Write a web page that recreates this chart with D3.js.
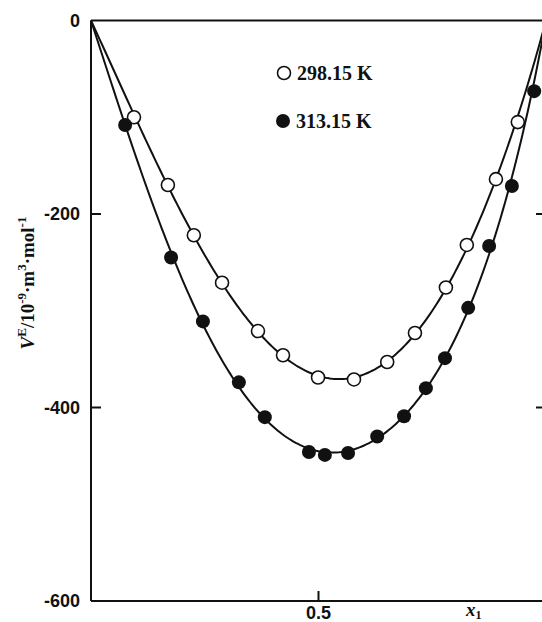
<!DOCTYPE html>
<html>
<head>
<meta charset="utf-8">
<script src="https://cdn.jsdelivr.net/npm/d3@7"></script>
<style>
  html, body { margin: 0; padding: 0; background: #fff; overflow: hidden; }
  svg { display: block; }
  .tick-label { font-family: "Liberation Sans", Arial, sans-serif; font-weight: bold; font-size: 18px; fill: #111; }
  .serif { font-family: "Liberation Serif", "Times New Roman", serif; font-weight: bold; fill: #111; }
</style>
</head>
<body>
<svg id="chart" width="542" height="622"></svg>
<script>
// Excess molar volume V^E vs mole fraction x1 at two temperatures
const x298 = [0.0945, 0.169, 0.226, 0.288, 0.367, 0.422, 0.499, 0.578, 0.651, 0.712, 0.780, 0.826, 0.890, 0.938];
const v298 = [-100, -170, -222, -271, -321, -346, -369, -371, -353, -323, -276, -232, -164, -105];

const x313 = [0.075, 0.176, 0.246, 0.325, 0.382, 0.479, 0.514, 0.565, 0.629, 0.688, 0.736, 0.778, 0.829, 0.875, 0.925, 0.974];
const v313 = [-108, -245, -311, -374, -410, -446, -449, -447, -430, -409, -380, -349, -297, -233, -171, -73];

const seriesLabels = ["298.15 K", "313.15 K"];
const yTicks = [0, -200, -400, -600];
const xTicks = [0.5];

const svg = d3.select("#chart");
const x = d3.scaleLinear().domain([0, 1]).range([91, 546]);
const y = d3.scaleLinear().domain([-600, 0]).range([601, 20.5]);

// Redlich–Kister least-squares fit: V = x(1-x) * sum A_k (2x-1)^k
function rkFit(xs, vs, order) {
  const n = order + 1;
  const basis = (xx, k) => xx * (1 - xx) * Math.pow(2 * xx - 1, k);
  const M = Array.from({length: n}, () => new Array(n + 1).fill(0));
  xs.forEach((xx, i) => {
    for (let a = 0; a < n; a++) {
      for (let b = 0; b < n; b++) M[a][b] += basis(xx, a) * basis(xx, b);
      M[a][n] += basis(xx, a) * vs[i];
    }
  });
  for (let c = 0; c < n; c++) {
    let p = c;
    for (let r = c + 1; r < n; r++) if (Math.abs(M[r][c]) > Math.abs(M[p][c])) p = r;
    [M[c], M[p]] = [M[p], M[c]];
    for (let r = 0; r < n; r++) {
      if (r === c) continue;
      const f = M[r][c] / M[c][c];
      for (let k = c; k <= n; k++) M[r][k] -= f * M[c][k];
    }
  }
  const A = M.map((row, i) => row[n] / row[i]);
  return xx => A.reduce((s, a, k) => s + a * basis(xx, k), 0);
}

const fit298 = rkFit(x298, v298, 3);
const fit313 = rkFit(x313, v313, 3);
const grid = d3.range(0, 1.0001, 0.005);

const line = d3.line().x(d => x(d[0])).y(d => y(d[1])).curve(d3.curveLinear);

[fit298, fit313].forEach(f => {
  svg.append("path")
    .attr("d", line(grid.map(g => [g, f(g)])))
    .attr("fill", "none").attr("stroke", "#111").attr("stroke-width", 2);
});

// Frame
const frame = svg.append("g").attr("stroke", "#111").attr("stroke-width", 2).attr("fill", "none");
frame.append("line").attr("x1", x(0)).attr("x2", x(0)).attr("y1", y(0)).attr("y2", y(-600));
frame.append("line").attr("x1", x(0)).attr("x2", x(1)).attr("y1", y(0)).attr("y2", y(0));
frame.append("line").attr("x1", x(0)).attr("x2", x(1)).attr("y1", y(-600)).attr("y2", y(-600));
frame.append("line").attr("x1", x(1)).attr("x2", x(1)).attr("y1", y(0)).attr("y2", y(-600));

// Inward ticks
yTicks.filter(t => t !== 0 && t !== -600).forEach(t => {
  frame.append("line").attr("x1", x(0)).attr("x2", x(0) + 10).attr("y1", y(t)).attr("y2", y(t));
  frame.append("line").attr("x1", x(1)).attr("x2", x(1) - 10).attr("y1", y(t)).attr("y2", y(t));
});
xTicks.forEach(t => {
  frame.append("line").attr("x1", x(t)).attr("x2", x(t)).attr("y1", y(-600)).attr("y2", y(-600) - 10);
});

// Tick labels
svg.selectAll(".ylab").data(yTicks).join("text")
  .attr("class", "tick-label")
  .attr("x", 80).attr("y", d => y(d)).attr("dy", "0.35em")
  .attr("text-anchor", "end").text(d => d);
svg.selectAll(".xlab").data(xTicks).join("text")
  .attr("class", "tick-label")
  .attr("x", d => x(d)).attr("y", 619)
  .attr("text-anchor", "middle").text(d => d);

// Axis titles
const xt = svg.append("text").attr("class", "serif").attr("x", 466).attr("y", 616).attr("font-size", 19);
xt.append("tspan").attr("font-style", "italic").text("x");
xt.append("tspan").attr("font-size", 12).attr("dy", 3).text("1");

const yt = svg.append("text").attr("class", "serif")
  .attr("transform", "translate(34,283) rotate(-90)")
  .attr("text-anchor", "middle").attr("font-size", 19);
yt.append("tspan").attr("font-style", "italic").text("V");
yt.append("tspan").attr("font-size", 13).attr("dy", -8).text("E");
yt.append("tspan").attr("dy", 8).text("/10");
yt.append("tspan").attr("font-size", 13).attr("dy", -8).text("-9");
yt.append("tspan").attr("dy", 8).text("·m");
yt.append("tspan").attr("font-size", 13).attr("dy", -8).text("3");
yt.append("tspan").attr("dy", 8).text("·mol");
yt.append("tspan").attr("font-size", 13).attr("dy", -8).text("-1");

// Data markers
svg.append("g").selectAll("circle").data(x298.map((d, i) => [d, v298[i]])).join("circle")
  .attr("cx", d => x(d[0])).attr("cy", d => y(d[1])).attr("r", 6.5)
  .attr("fill", "#fff").attr("stroke", "#111").attr("stroke-width", 1.6);
svg.append("g").selectAll("circle").data(x313.map((d, i) => [d, v313[i]])).join("circle")
  .attr("cx", d => x(d[0])).attr("cy", d => y(d[1])).attr("r", 7)
  .attr("fill", "#111");

// Legend
const legend = svg.append("g");
legend.append("circle").attr("cx", 284).attr("cy", 73).attr("r", 6.5)
  .attr("fill", "#fff").attr("stroke", "#111").attr("stroke-width", 1.6);
legend.append("circle").attr("cx", 283).attr("cy", 121).attr("r", 7).attr("fill", "#111");
legend.append("text").attr("class", "serif").attr("font-size", 20).attr("x", 297).attr("y", 80).text(seriesLabels[0]);
legend.append("text").attr("class", "serif").attr("font-size", 20).attr("x", 296).attr("y", 128).text(seriesLabels[1]);
</script>
</body>
</html>
